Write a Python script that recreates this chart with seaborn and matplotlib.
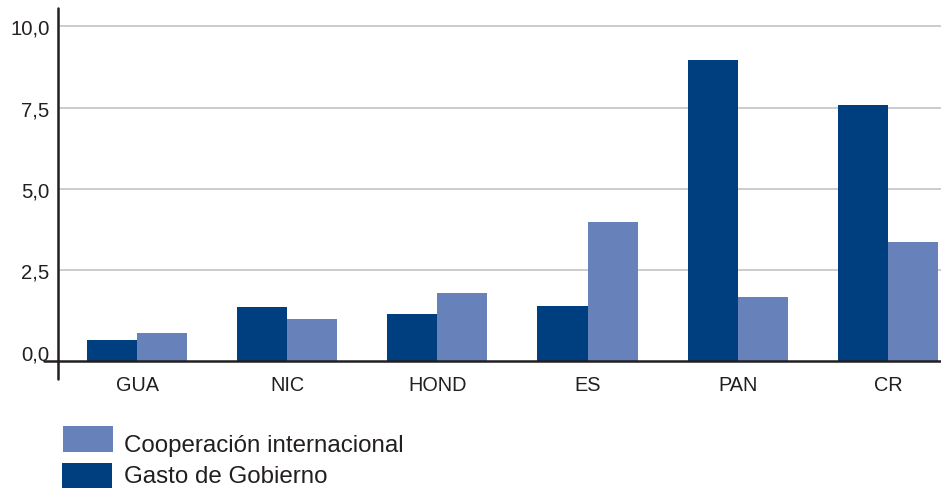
import matplotlib
matplotlib.use("Agg")
import matplotlib.pyplot as plt
from matplotlib.lines import Line2D
from matplotlib.patches import Rectangle
import seaborn as sns
import pandas as pd

# Data
countries = ["GUA", "NIC", "HOND", "ES", "PAN", "CR"]
gasto_gobierno = [0.38, 1.39, 1.17, 1.42, 8.97, 7.58]
cooperacion = [0.59, 1.02, 1.82, 4.00, 1.70, 3.38]
series_names = ["Gasto de Gobierno", "Cooperación internacional"]
y_ticks = [0.0, 2.5, 5.0, 7.5, 10.0]

colors = {"Gasto de Gobierno": "#003f7f", "Cooperación internacional": "#6782ba"}
text_color = "#231f20"

df = pd.DataFrame({
    "pais": countries * 2,
    "valor": gasto_gobierno + cooperacion,
    "serie": [series_names[0]] * len(countries) + [series_names[1]] * len(countries),
})

sns.set_theme(style="white")
plt.rcParams["font.family"] = ["Liberation Sans", "DejaVu Sans"]

fig = plt.figure(figsize=(9.41, 4.89), dpi=100)
W, H = 941, 489
ax_left, ax_right, ax_top, ax_bottom = 58, 941, 9, 362
ax = fig.add_axes([ax_left / W, 1 - ax_bottom / H,
                   (ax_right - ax_left) / W, (ax_bottom - ax_top) / H])

sns.barplot(data=df, x="pais", y="valor", hue="serie", hue_order=series_names,
            order=countries, palette=colors, width=0.667, ax=ax,
            legend=False, saturation=1, linewidth=0)

y_min, y_max = -0.28, 10.56
ax.set_ylim(y_min, y_max)
ax.set_xlim(-0.526, 5.353)

# bars rise from the base line of the axis
for p in ax.patches:
    h = p.get_height()
    p.set_y(y_min)
    p.set_height(h - y_min)

# horizontal grid (none at zero)
for t in y_ticks[1:]:
    ax.axhline(t, color="#cccccc", lw=1.4, zorder=0)

for s in ax.spines.values():
    s.set_visible(False)

# axis lines that cross beyond the plotting area
ax.add_line(Line2D([-0.016, 1.0], [0, 0], transform=ax.transAxes,
                   color=text_color, lw=1.8, clip_on=False, zorder=5))
ax.add_line(Line2D([0, 0], [-0.05, 1.0], transform=ax.transAxes,
                   color=text_color, lw=1.8, clip_on=False, zorder=5))

ax.set_yticks(y_ticks)
ax.set_yticklabels([f"{v:.1f}".replace(".", ",") for v in y_ticks])
ax.tick_params(axis="y", length=0, pad=6, labelsize=14.6, labelcolor=text_color)
ax.tick_params(axis="x", length=0, pad=10, labelsize=14.3, labelcolor=text_color)
ax.set_xlabel("")
ax.set_ylabel("")
ax.grid(False)

# legend below the chart
legend_rows = [
    ("Cooperación internacional", 63, 427, 444.0),
    ("Gasto de Gobierno", 62, 464, 475.0),
]
for name, x0, y0, yc in legend_rows:
    fig.add_artist(Rectangle((x0 / W, 1 - (y0 + 26) / H), 50 / W, 26 / H,
                             transform=fig.transFigure, color=colors[name], lw=0))
    fig.text(124 / W, 1 - yc / H, name, fontsize=17.4, color=text_color,
             ha="left", va="center_baseline")

fig.savefig("out.png", dpi=100)
